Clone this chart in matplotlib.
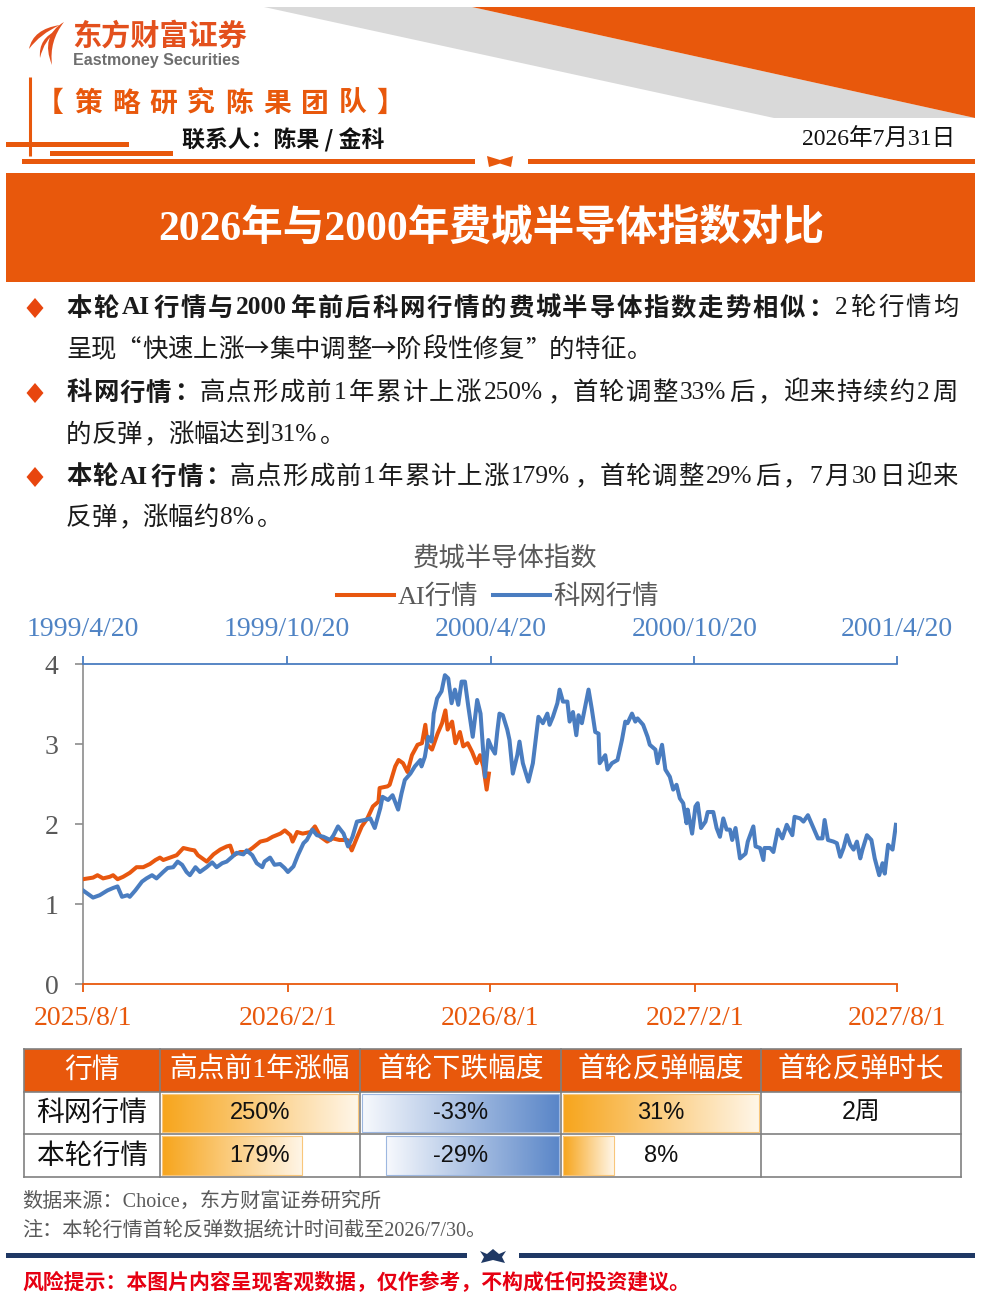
import numpy as np
import matplotlib
matplotlib.use('Agg')
import matplotlib.pyplot as plt
from matplotlib.patches import Polygon, Rectangle, PathPatch
from matplotlib.path import Path
from matplotlib.font_manager import FontProperties

plt.rcParams['font.family'] = ['Noto Sans CJK SC', 'DejaVu Sans']

# ---------------- data ----------------
AI_START = '2025-08-01'
ai_day = [0, 9, 13, 18, 24, 27, 31, 36, 42, 48, 54, 60, 65, 69, 72, 78, 84, 90, 96, 100,
          103, 108, 111, 117, 123, 129, 132, 135, 141, 147, 152, 159, 165, 170, 177, 181, 186, 188, 192, 197,
          204, 208, 213, 219, 224, 230, 237, 241, 246, 250, 255, 260, 265, 266, 273, 275, 280, 283, 287, 291,
          295, 300, 304, 307, 309, 313, 318, 322, 325, 327, 331, 334, 338, 341, 345, 349, 353, 356, 359, 362, 364]
ai_val = [1.31, 1.33, 1.36, 1.32, 1.34, 1.36, 1.31, 1.34, 1.39, 1.46, 1.46, 1.50, 1.55, 1.58, 1.55, 1.58, 1.61, 1.70, 1.68, 1.67,
          1.61, 1.56, 1.53, 1.62, 1.68, 1.72, 1.73, 1.61, 1.65, 1.65, 1.70, 1.78, 1.80, 1.84, 1.88, 1.92, 1.86, 1.78, 1.90, 1.88,
          1.90, 1.97, 1.84, 1.78, 1.82, 1.80, 1.80, 1.67, 1.84, 1.97, 2.07, 2.22, 2.28, 2.45, 2.47, 2.49, 2.72, 2.80, 2.76, 2.65,
          2.86, 2.99, 3.01, 3.24, 2.99, 2.93, 3.13, 3.26, 3.42, 3.18, 3.28, 3.01, 3.15, 2.97, 3.01, 2.90, 2.76, 2.86, 2.72, 2.43, 2.63]

DOT_START = '1999-04-20'
dot_day = [0, 4, 9, 15, 22, 27, 31, 35, 40, 42, 47, 53, 57, 62, 66, 72, 76, 81, 85, 89,
           93, 96, 101, 105, 111, 116, 120, 125, 129, 134, 138, 144, 147, 152, 156, 161, 163, 168, 172, 177,
           181, 184, 189, 193, 198, 201, 206, 210, 216, 222, 225, 229, 234, 238, 242, 246, 253, 258, 262, 267,
           269, 274, 278, 283, 286, 289, 294, 298, 303, 304, 307, 310, 313, 315, 318, 322, 325, 328, 331, 334,
           337, 340, 343, 346, 350, 354, 357, 361, 364, 367, 370, 372, 374, 377, 381, 383, 386, 390, 392, 395,
           400, 404, 409, 413, 417, 419, 422, 426, 428, 431, 435, 437, 440, 443, 445, 448, 451, 454, 457, 460,
           463, 464, 469, 471, 475, 480, 484, 487, 489, 493, 496, 498, 503, 507, 509, 514, 516, 520, 523, 527,
           530, 533, 536, 539, 542, 543, 547, 550, 552, 555, 559, 561, 566, 569, 572, 575, 578, 581, 583, 586,
           590, 595, 597, 602, 604, 608, 611, 612, 617, 620, 624, 628, 632, 637, 639, 644, 647, 651, 656, 660,
           664, 666, 669, 674, 677, 680, 683, 686, 689, 692, 695, 698, 700, 704, 708, 711, 715, 718, 720, 723,
           727, 730]
dot_val = [1.17, 1.13, 1.08, 1.11, 1.17, 1.20, 1.22, 1.09, 1.11, 1.09, 1.17, 1.28, 1.32, 1.36, 1.32, 1.40, 1.45, 1.46, 1.53, 1.49,
           1.40, 1.36, 1.46, 1.40, 1.46, 1.52, 1.46, 1.51, 1.53, 1.59, 1.64, 1.62, 1.67, 1.61, 1.51, 1.46, 1.53, 1.58, 1.49, 1.50,
           1.45, 1.40, 1.47, 1.61, 1.76, 1.80, 1.93, 1.86, 1.84, 1.80, 1.86, 1.97, 1.88, 1.72, 1.84, 2.03, 2.05, 2.07, 1.95, 2.20,
           2.34, 2.30, 2.36, 2.18, 2.38, 2.55, 2.63, 2.72, 2.80, 2.72, 2.84, 3.09, 3.03, 3.38, 3.57, 3.66, 3.86, 3.82, 3.51, 3.68,
           3.49, 3.78, 3.78, 3.47, 3.09, 3.55, 3.38, 2.59, 3.05, 2.95, 2.88, 3.15, 3.38, 3.36, 3.18, 3.05, 2.63, 2.86, 3.03, 2.76,
           2.53, 2.76, 3.34, 3.26, 3.38, 3.24, 3.34, 3.51, 3.68, 3.53, 3.53, 3.28, 3.40, 3.11, 3.36, 3.26, 3.47, 3.68, 3.43, 3.15,
           3.13, 2.76, 2.86, 2.68, 2.76, 2.80, 3.05, 3.28, 3.26, 3.38, 3.28, 3.32, 3.24, 3.09, 2.99, 2.93, 2.76, 2.99, 2.68, 2.59,
           2.43, 2.49, 2.32, 2.26, 2.01, 2.18, 1.88, 2.22, 2.26, 1.95, 2.03, 2.15, 2.15, 1.95, 1.84, 2.07, 1.93, 1.93, 1.80, 1.95,
           1.57, 1.63, 1.78, 1.97, 1.72, 1.70, 1.55, 1.70, 1.70, 1.65, 1.93, 1.82, 1.99, 1.86, 2.09, 2.07, 2.03, 2.11, 1.95, 1.82,
           1.82, 2.05, 1.80, 1.78, 1.76, 1.59, 1.70, 1.86, 1.74, 1.68, 1.78, 1.57, 1.68, 1.86, 1.80, 1.57, 1.36, 1.51, 1.38, 1.74,
           1.68, 1.99]

bottom_ticks = ['2025/8/1', '2026/2/1', '2026/8/1', '2027/2/1', '2027/8/1']
top_ticks = ['1999/4/20', '1999/10/20', '2000/4/20', '2000/10/20', '2001/4/20']
y_ticks = [0, 1, 2, 3, 4]
series_names = ['AI行情', '科网行情']

tbl_header = ['行情', '高点前1年涨幅', '首轮下跌幅度', '首轮反弹幅度', '首轮反弹时长']
tbl_rows = ['科网行情', '本轮行情']
rise_pct = [250, 179]
drop_pct = [-33, -29]
rebound_pct = [31, 8]
rebound_len = ['2周', '']

# ---------------- styles ----------------
ORANGE = '#E8580C'
AI_C = '#E8570F'
BLUE = '#4A7DC0'
BLUE_TXT = '#4F83C4'
GRAY_T = '#595959'
CJK = 'Noto Sans CJK SC'
SERIF = ['Liberation Serif', 'Noto Sans CJK SC']

W, H = 981, 1307
fig = plt.figure(figsize=(W / 100, H / 100), dpi=100)
fig.patch.set_facecolor('white')
bg = fig.add_axes([0, 0, 1, 1])
bg.set_xlim(0, W)
bg.set_ylim(H, 0)
bg.set_autoscale_on(False)
bg.axis('off')


def todate(start, days):
    return np.datetime64(start) + np.array(days, dtype='timedelta64[D]')


def pdate(s):
    y, m, d = s.split('/')
    return np.datetime64('%04d-%02d-%02d' % (int(y), int(m), int(d)))


# ---------------- header ----------------
bg.add_patch(Polygon([(264, 7), (472, 7), (975, 118), (774, 118)], closed=True, fc='#D9D9D9', ec='none'))
bg.add_patch(Polygon([(472, 7), (975, 7), (975, 118)], closed=True, fc=ORANGE, ec='none'))


def blade(p0, c1, p1, c2):
    verts = [p0, c1, p1, c2, p0]
    codes = [Path.MOVETO, Path.CURVE3, Path.CURVE3, Path.CURVE3, Path.CURVE3]
    return PathPatch(Path(verts, codes), fc='#E3501D', ec='none')


bg.add_patch(blade((64, 22), (40, 36), (52, 65), (49, 41)))
bg.add_patch(blade((60, 25), (33, 29), (29, 49), (40, 34)))
bg.add_patch(blade((58, 30), (38, 38), (40, 58), (44, 40)))
bg.text(72, 36, '东方财富证券', fontsize=21, fontweight='bold', color='#E3501D', ha='left', va='center', family=CJK)
bg.text(73, 61, 'Eastmoney Securities', fontsize=11.5, fontweight='bold', color='#6E6E6E', ha='left', va='center',
        family='Liberation Sans')

bg.plot([30, 30], [77, 156], color=ORANGE, lw=2.2, solid_capstyle='butt')
bg.add_patch(Rectangle((6, 142), 123, 5, fc=ORANGE, ec='none'))
bg.add_patch(Rectangle((50, 151), 123, 5, fc=ORANGE, ec='none'))

team = '【策略研究陈果团队】'
for i, ch in enumerate(team):
    bg.text(50 + i * 37.8, 104, ch, fontsize=20, fontweight='bold', color=ORANGE, ha='center', va='center', family=CJK)

bg.text(182, 140, '联系人：陈果 / 金科', fontsize=16.5, fontweight='bold', color='#111111', ha='left', va='center',
        family=CJK)
bg.text(955, 140, '2026年7月31日', fontsize=17, color='#111111', ha='right', va='center', family=SERIF)

bg.add_patch(Rectangle((22, 159), 453, 5, fc=ORANGE, ec='none'))
bg.add_patch(Rectangle((528, 159), 447, 5, fc=ORANGE, ec='none'))
bg.add_patch(Polygon([(487, 156), (500, 160), (513, 156), (511, 167), (500, 163.5), (489, 167)], closed=True,
                     fc=ORANGE, ec='none'))

bg.add_patch(Rectangle((6, 173), 969, 109, fc=ORANGE, ec='none'))
bg.text(491, 229, '2026年与2000年费城半导体指数对比', fontsize=30, fontweight='bold', color='white',
        ha='center', va='center', family=['Liberation Serif', 'Noto Sans CJK SC'])


# ---------------- bullet text ----------------
def is_wide(ch):
    return ord(ch) >= 0x2E80 or ch in '“”→'


def draw_line(segments, x0, y, fs, x1=None, color='#1A1A1A'):
    # tokens: each wide char alone, runs of narrow chars grouped
    toks = []
    for txt, wt in segments:
        for ch in txt:
            if (not is_wide(ch)) and toks and (not toks[-1][2]) and toks[-1][1] == wt:
                toks[-1][0] += ch
            else:
                toks.append([ch, wt, is_wide(ch)])
    r = fig.canvas.get_renderer()
    em = fs * 100 / 72
    items, advs = [], []
    for s, wt, wide in toks:
        fam = CJK if wide else SERIF
        t = bg.text(0, y, s, fontsize=fs, fontweight=wt, family=fam, va='center', ha='left', color=color)
        items.append(t)
        if wide:
            advs.append(em)
        else:
            advs.append(t.get_window_extent(r).width + 0.12 * em)
    natural = sum(advs)
    gap = 0 if x1 is None else (x1 - x0 - natural) / (len(items) - 1)
    x = x0
    for t, a in zip(items, advs):
        ch = t.get_text()
        if ch in '，。：、”':
            t.set_x(x + 0.06 * em)
            t.set_ha('left')
        elif ch == '“':
            t.set_x(x + a - 0.06 * em)
            t.set_ha('right')
        else:
            t.set_x(x + a / 2)
            t.set_ha('center')
        x += a + gap


FS = 18.3
for yb in (308, 393, 477):
    bg.add_patch(Polygon([(35, yb - 10), (43.5, yb), (35, yb + 10), (26.5, yb)], closed=True, fc='#E8460E', ec='none'))

draw_line([('本轮AI行情与2000年前后科网行情的费城半导体指数走势相似：', 'bold'), ('2轮行情均', 'normal')], 66, 308, FS, 958)
draw_line([('呈现“快速上涨→集中调整→阶段性修复”的特征。', 'normal')], 66, 350, FS)
draw_line([('科网行情：', 'bold'), ('高点形成前1年累计上涨250%，首轮调整33%后，迎来持续约2周', 'normal')], 66, 393, FS, 958)
draw_line([('的反弹，涨幅达到31%。', 'normal')], 66, 435, FS)
draw_line([('本轮AI行情：', 'bold'), ('高点形成前1年累计上涨179%，首轮调整29%后，7月30日迎来', 'normal')], 66, 477, FS, 958)
draw_line([('反弹，涨幅约8%。', 'normal')], 66, 518, FS)

# ---------------- chart ----------------
bg.text(505, 558, '费城半导体指数', fontsize=19, color=GRAY_T, ha='center', va='center', family=CJK)

ax = fig.add_axes([83 / W, 1 - 984 / H, 814 / W, 320 / H])
ax.patch.set_visible(False)
l1, = ax.plot(todate(AI_START, ai_day), ai_val, color=AI_C, lw=2.9, solid_joinstyle='round', zorder=3)
ax2 = ax.twiny()
ax2.patch.set_visible(False)
l2, = ax2.plot(todate(DOT_START, dot_day), dot_val, color=BLUE, lw=2.9, solid_joinstyle='round', zorder=3)

ax.set_ylim(0, 4)
ax.set_xlim(pdate(bottom_ticks[0]), pdate(bottom_ticks[-1]))
ax2.set_xlim(pdate(top_ticks[0]), pdate(top_ticks[-1]))
ax.set_xticks([pdate(s) for s in bottom_ticks])
ax.set_xticklabels(bottom_ticks, fontfamily='Liberation Serif', fontsize=20, color=ORANGE)
ax2.set_xticks([pdate(s) for s in top_ticks])
ax2.set_xticklabels(top_ticks, fontfamily='Liberation Serif', fontsize=20, color=BLUE_TXT)
ax.set_yticks(y_ticks)
ax.set_yticklabels([str(v) for v in y_ticks], fontfamily='Liberation Serif', fontsize=20, color=GRAY_T)

for s in ('top', 'right'):
    ax.spines[s].set_visible(False)
for s in ('left', 'right', 'bottom'):
    ax2.spines[s].set_visible(False)
ax.spines['left'].set_color('#8C8C8C')
ax.spines['left'].set_linewidth(1.2)
ax.spines['bottom'].set_color(ORANGE)
ax.spines['bottom'].set_linewidth(1.3)
ax2.spines['top'].set_color(BLUE)
ax2.spines['top'].set_linewidth(1.3)
ax.tick_params(axis='x', direction='out', length=5.8, width=1.3, color=ORANGE, pad=10)
ax.tick_params(axis='y', direction='out', length=5.8, width=1.2, color='#8C8C8C', pad=12)
ax2.tick_params(axis='x', direction='out', length=5.8, width=1.3, color=BLUE, pad=10)

leg = fig.legend([l1, l2], series_names, loc='center', bbox_to_anchor=(498 / W, 1 - 597 / H), ncol=2,
                 frameon=False, handlelength=2.16, handletextpad=0.15, columnspacing=0.55,
                 prop=FontProperties(family=SERIF, size=19), labelcolor=GRAY_T)

# ---------------- table ----------------
xs = [24, 160, 360, 561, 761, 961]
ys = [1049, 1092, 1134, 1177]
bg.add_patch(Rectangle((xs[0], ys[0]), xs[-1] - xs[0], ys[1] - ys[0], fc=ORANGE, ec='none', zorder=1))
for j, h in enumerate(tbl_header):
    bg.text((xs[j] + xs[j + 1]) / 2, (ys[0] + ys[1]) / 2, h, fontsize=20, color='white', ha='center', va='center',
            family=SERIF, zorder=4)


def grad_bar(x0, x1, y0, y1, c0, c1, edge):
    c0 = np.array(matplotlib.colors.to_rgb(c0))
    c1 = np.array(matplotlib.colors.to_rgb(c1))
    t = np.linspace(0, 1, 256)[:, None]
    arr = (c0 * (1 - t) + c1 * t)[None, :, :]
    bg.imshow(arr, extent=[x0, x1, y1, y0], aspect='auto', interpolation='bilinear', zorder=2)
    bg.add_patch(Rectangle((x0, y0), x1 - x0, y1 - y0, fc='none', ec=edge, lw=0.8, zorder=2.5))


OR_L, OR_R, OR_E = '#F7A51C', '#FFF6E8', '#F9C67A'
BL_L, BL_R, BL_E = '#F7F9FD', '#5A86C8', '#9DB7E0'

rmax = max(abs(v) for v in rise_pct)
dmax = max(abs(v) for v in drop_pct)
bmax = max(abs(v) for v in rebound_pct)
for i in range(len(tbl_rows)):
    yt, yb = ys[i + 1] + 2, ys[i + 2] - 2
    yc = (ys[i + 1] + ys[i + 2]) / 2
    bg.text((xs[0] + xs[1]) / 2, yc, tbl_rows[i], fontsize=20, color='#111111', ha='center', va='center',
            family=CJK, zorder=4)
    cw = xs[2] - xs[1] - 4
    grad_bar(xs[1] + 2, xs[1] + 2 + cw * abs(rise_pct[i]) / rmax, yt, yb, OR_L, OR_R, OR_E)
    bg.text((xs[1] + xs[2]) / 2, yc, '%d%%' % rise_pct[i], fontsize=17, family='Liberation Sans',
            ha='center', va='center', color='#111111', zorder=4)
    cw = xs[3] - xs[2] - 4
    grad_bar(xs[3] - 2 - cw * abs(drop_pct[i]) / dmax, xs[3] - 2, yt, yb, BL_L, BL_R, BL_E)
    bg.text((xs[2] + xs[3]) / 2, yc, '%d%%' % drop_pct[i], fontsize=17, family='Liberation Sans',
            ha='center', va='center', color='#111111', zorder=4)
    cw = xs[4] - xs[3] - 4
    grad_bar(xs[3] + 2, xs[3] + 2 + cw * abs(rebound_pct[i]) / bmax, yt, yb, OR_L, OR_R, OR_E)
    bg.text((xs[3] + xs[4]) / 2, yc, '%d%%' % rebound_pct[i], fontsize=17, family='Liberation Sans',
            ha='center', va='center', color='#111111', zorder=4)
    if rebound_len[i]:
        bg.text((xs[4] + xs[5]) / 2, yc, rebound_len[i], fontsize=18, family=['Liberation Sans', CJK],
                ha='center', va='center', color='#111111', zorder=4)

for yv in ys:
    bg.plot([xs[0], xs[-1]], [yv, yv], color='#808080', lw=1.2, zorder=3)
for xv in xs:
    bg.plot([xv, xv], [ys[0], ys[-1]], color='#808080', lw=1.2, zorder=3)

# ---------------- notes ----------------
bg.text(22, 1202, '数据来源：Choice，东方财富证券研究所', fontsize=14.5, color=GRAY_T, ha='left', va='center',
        family=SERIF)
bg.text(22, 1231, '注：本轮行情首轮反弹数据统计时间截至2026/7/30。', fontsize=14.5, color=GRAY_T, ha='left',
        va='center', family=SERIF)

NAVY = '#1F3864'
bg.add_patch(Rectangle((6, 1253), 461, 5, fc=NAVY, ec='none'))
bg.add_patch(Rectangle((519, 1253), 456, 5, fc=NAVY, ec='none'))
bg.add_patch(Polygon([(480, 1251), (487, 1254), (493, 1249), (499, 1254), (506, 1251), (502, 1257), (505, 1263),
                      (493, 1260), (481, 1263), (484, 1257)], closed=True, fc=NAVY, ec='none'))

bg.text(22, 1282, '风险提示：本图片内容呈现客观数据，仅作参考，不构成任何投资建议。', fontsize=15, fontweight='bold',
        color='#E60012', ha='left', va='center', family=CJK)

fig.savefig('out.png', dpi=100, facecolor='white')
